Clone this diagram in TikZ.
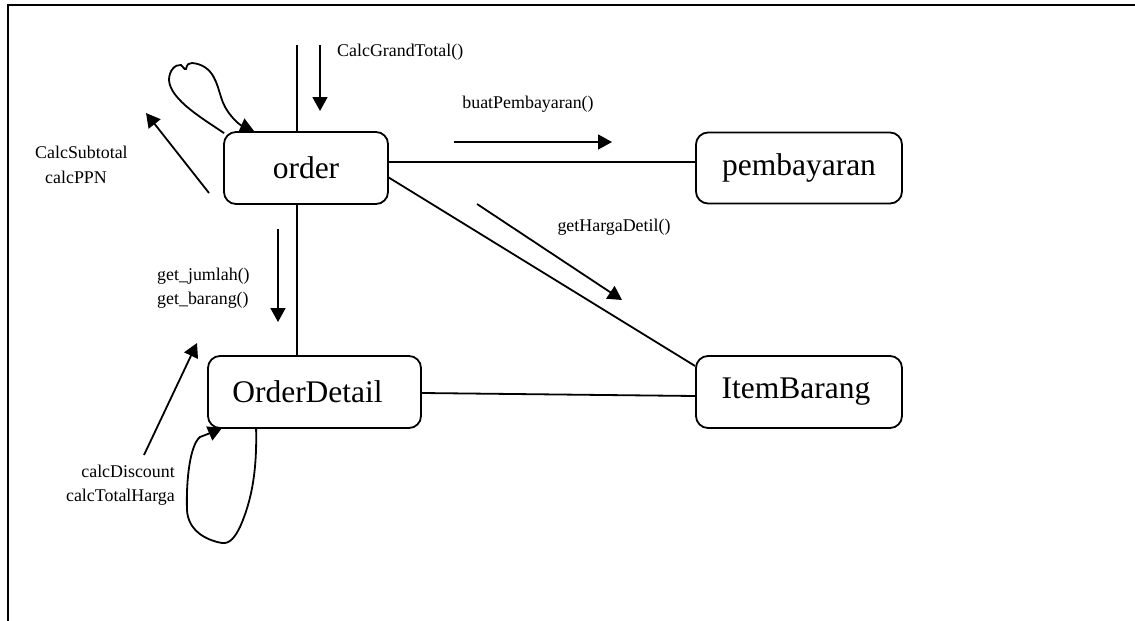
\documentclass[tikz,border=0pt]{standalone}
\usepackage{fontspec}
\setmainfont{Liberation Serif}
\usetikzlibrary{calc,arrows.meta}
\begin{document}
\begin{tikzpicture}[x=1pt,y=-1pt,
  ln/.style={line width=1.8pt},
  arr/.style={line width=1.8pt,-{Triangle[length=14pt,width=15pt]}},
  cls/.style={draw,line width=1.8pt,rounded corners=12pt,inner sep=0pt,
    font=\fontsize{31.5}{36}\selectfont},
  lbl/.style={inner sep=0pt,font=\fontsize{17.9}{24.5}\selectfont}]
\useasboundingbox (0,0) rectangle (1135,621);
\draw[ln] (1135,5) -- (8,5) -- (8,621);
% classes
\node[cls,minimum width=164pt,minimum height=72pt] (order) at (306,168) {order};
\node[cls,minimum width=206pt,minimum height=71pt] (pembayaran) at (799,168) {pembayaran};
\node[cls,minimum width=206pt,minimum height=72pt] (ItemBarang) at (799,392) {\hbox{ItemBarang\kern6pt}};
\node[cls,minimum width=213pt,minimum height=72pt] (OrderDetail) at (314.5,392) {\hbox{OrderDetail\kern14pt}};
% associations
\coordinate (topin) at (297,45);
\draw[ln] (topin) -- (topin |- order.north);
\draw[ln] (topin |- order.south) -- (topin |- OrderDetail.north);
\draw[ln] ($(order.east)+(0,-6)$) coordinate (oe) -- (oe -| pembayaran.west);
\draw[ln] ($(order.east)+(-1,9)$) -- ($(ItemBarang.west)+(0,-26)$);
\draw[ln] ($(OrderDetail.east)+(0,1)$) -- ($(ItemBarang.west)+(0,4)$);
% message arrows
\coordinate (gt1) at (320,45); \coordinate (gt2) at (320,111);
\draw[arr] (gt1) -- (gt2);
\node[lbl,anchor=west] (lgt) at (337,52) {CalcGrandTotal()};
\coordinate (bp1) at (454,142); \coordinate (bp2) at (612,142);
\draw[arr] (bp1) -- (bp2);
\node[lbl] (lbp) at (528,104) {buatPembayaran()};
\coordinate (hd1) at (477,204); \coordinate (hd2) at (622,300);
\draw[arr] (hd1) -- (hd2);
\node[lbl] (lhd) at (614,227) {getHargaDetil()};
\coordinate (st1) at (209,193); \coordinate (st2) at (146,113);
\draw[arr] (st1) -- (st2);
\node[lbl,anchor=west,align=left] (lst) at (35,165) {CalcSubtotal\\\hspace{10pt}calcPPN};
\coordinate (gj1) at (278,229); \coordinate (gj2) at (278,322);
\draw[arr] (gj1) -- (gj2);
\node[lbl,anchor=west,align=left] (lgj) at (157,288) {get\_jumlah()\\get\_barang()};
\coordinate (cd1) at (144,455); \coordinate (cd2) at (197,343);
\draw[arr] (cd1) -- (cd2);
\node[lbl,anchor=east,align=right] (lcd) at (175,485) {calcDiscount\\calcTotalHarga};
% self loops
\draw[arr] ($(order.north west)+(1,2)$)
  .. controls (205,120) and (170,100) .. (169,80)
  .. controls (169,71) and (175,64) .. (181,65)
  .. controls (183,66) and (184,70) .. (186,69)
  .. controls (187,64) and (189,63) .. (192,63)
  .. controls (214,65) and (217,85) .. (221,97)
  .. controls (225,112) and (238,124) .. ($(order.north west)+(31,0)$);
\draw[arr] ($(OrderDetail.south west)+(49,0)$)
  .. controls (257,470) and (252,500) .. (240,527)
  .. controls (235,537) and (230,544) .. (222,543)
  .. controls (205,540) and (188,530) .. (187,510)
  .. controls (186,480) and (190,445) .. (200,437)
  .. controls (208,434) and (215,431) .. ($(OrderDetail.south west)+(15,-1)$);
\end{tikzpicture}
\end{document}
